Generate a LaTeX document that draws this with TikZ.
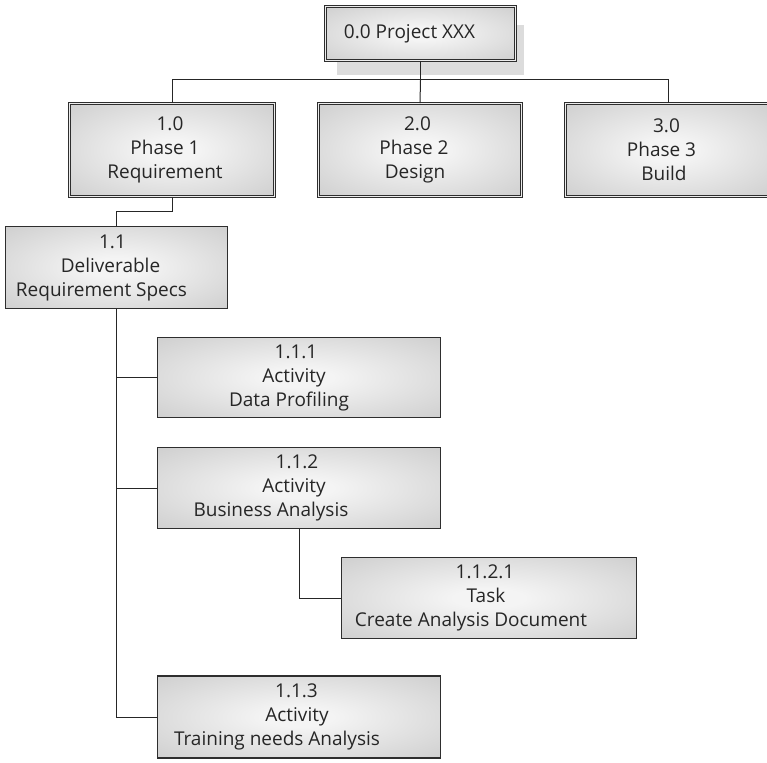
\documentclass[tikz,border=0pt]{standalone}
\usepackage{fontspec}
\setmainfont{Open Sans}
\usetikzlibrary{positioning}

% colours of the box fill and outlines
\definecolor{glowin}{HTML}{F4F4F4}
\definecolor{glowout}{HTML}{BDBDBD}
\definecolor{edge}{HTML}{2E2E2E}
\definecolor{shadowgray}{HTML}{DCDCDC}

% light centre fading to grey towards the border
\pgfdeclareradialshading{boxglow}{\pgfpoint{0bp}{0bp}}{%
  color(0bp)=(glowin); color(6bp)=(glowin);
  color(50bp)=(glowout); color(75bp)=(glowout)}

% one label line, its centre moved sideways by half of #1
\newcommand\wl[2]{\makebox[0pt]{\kern#1\relax #2}}

\tikzset{
  wbs/.style={rectangle, shading=boxglow, draw=edge, line width=1.1pt,
    align=center, inner sep=0pt, font=\fontsize{19}{24}\selectfont,
    text=black!85},
  framed/.style={wbs, line width=0.9pt, double=gray!15, double distance=1.8pt},
  link/.style={draw=black!85, line width=1pt}
}

\begin{document}
\begin{tikzpicture}[x=1pt, y=-1pt]
  \useasboundingbox (0,0) rectangle (767,762);
  \begin{scope}
    \clip (0,0) rectangle (767,762);

    % drop shadow of the project box
    \fill[shadowgray] (337,25) rectangle (524,75);

    % project
    \node[framed, minimum width=190pt, minimum height=54pt] (root) at (420.5,33.5)
      {\wl{-22pt}{0.0 Project XXX}};

    % phases
    \node[framed, minimum width=205pt, minimum height=93pt] (p1) at (172,150)
      {\wl{-4pt}{1.0}\\\wl{-14pt}{Phase 1}\\\wl{-14pt}{Requirement}};
    \node[framed, minimum width=203pt, minimum height=93pt] (p2) at (420,150)
      {\wl{-5pt}{2.0}\\\wl{-12pt}{Phase 2}\\\wl{-10pt}{Design}};
    \node[framed, minimum width=205pt, minimum height=93pt] (p3) at (668,150)
      {\wl{-3pt}{3.0}\\\wl{-13pt}{Phase 3}\\\wl{-8pt}{Build}};

    % deliverable
    \node[wbs, minimum width=222pt, minimum height=82pt] (d11) at (116.5,267.5)
      {\wl{-8pt}{1.1}\\\wl{-12pt}{Deliverable}\\\wl{-30pt}{Requirement Specs}};

    % activities
    \node[wbs, minimum width=283pt, minimum height=80pt] (a111) at (299,377.5)
      {\wl{-6pt}{1.1.1}\\\wl{-10pt}{Activity}\\\wl{-20pt}{Data Profiling}};
    \node[wbs, minimum width=283pt, minimum height=81pt] (a112) at (299,488)
      {\wl{-4pt}{1.1.2}\\\wl{-10pt}{Activity}\\\wl{-56pt}{Business Analysis}};
    \node[wbs, minimum width=283pt, minimum height=82pt] (a113) at (299,717)
      {\wl{-5pt}{1.1.3}\\\wl{-4pt}{Activity}\\\wl{-44pt}{Training needs Analysis}};

    % task
    \node[wbs, minimum width=295pt, minimum height=81pt] (t1121) at (489,598)
      {\wl{-8pt}{1.1.2.1}\\\wl{-6pt}{Task}\\\wl{-36pt}{Create Analysis Document}};

    % connectors
    \draw[link] (root.south) -- ++(0,19) coordinate (hub);
    \draw[link] (p1.north) |- (hub) -| (p3.north);
    \draw[link] (hub) -- (p2.north);

    \draw[link] (p1.south) -- ++(0,15) -| (d11.north);

    \draw[link] (d11.south) |- (a111.west);
    \draw[link] (d11.south) |- (a112.west);
    \draw[link] (d11.south) |- (a113.west);

    \draw[link] (a112.south) |- (t1121.west);
  \end{scope}
\end{tikzpicture}
\end{document}
